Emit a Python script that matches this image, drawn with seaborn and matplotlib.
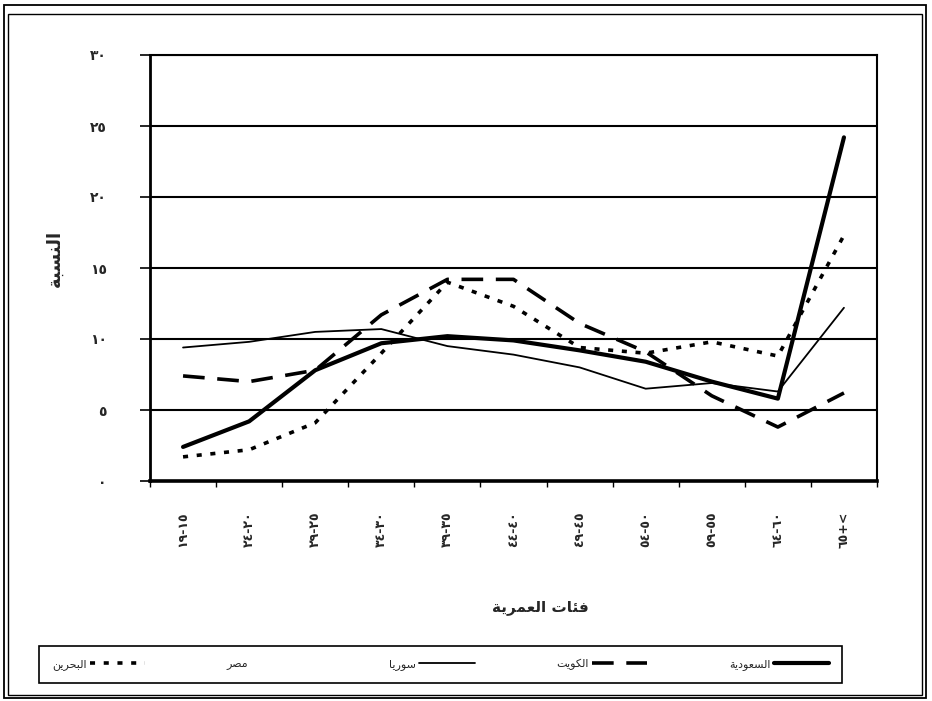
import numpy as np
import pandas as pd
import matplotlib
matplotlib.use("Agg")
import matplotlib.pyplot as plt
from matplotlib.lines import Line2D
from matplotlib.patches import Rectangle
import seaborn as sns

# age groups, as they read on the (rotated) tick labels
age_groups = ['١٩-١٥', '٢٤-٢٠', '٢٩-٢٥', '٣٤-٣٠', '٣٩-٣٥', '٤٤-٤٠',
              '٤٩-٤٥', '٥٤-٥٠', '٥٩-٥٥', '٦٤-٦٠', '٦٥+<']
y_ticks = [0, 5, 10, 15, 20, 25, 30]
y_tick_labels = ['٠', '٥', '١٠', '١٥', '٢٠', '٢٥', '٣٠']

saudi = [2.4, 4.2, 7.8, 9.7, 10.2, 9.9, 9.2, 8.4, 7.0, 5.8, 24.2]
syria = [9.4, 9.8, 10.5, 10.7, 9.5, 8.9, 8.0, 6.5, 6.9, 6.3, 12.2]
kuwait = [7.4, 7.0, 7.8, 11.7, 14.2, 14.2, 11.1, 9.1, 6.0, 3.8, 6.2]
bahrain = [1.7, 2.2, 4.1, 9.0, 14.0, 12.3, 9.4, 9.0, 9.8, 8.8, 17.3]

# Arabic letters -> (isolated, final, initial, medial) presentation forms
FORMS = {
    'ا': ('\uFE8D', '\uFE8E', None, None),
    'ب': ('\uFE8F', '\uFE90', '\uFE91', '\uFE92'),
    'ة': ('\uFE93', '\uFE94', None, None),
    'ت': ('\uFE95', '\uFE96', '\uFE97', '\uFE98'),
    'ح': ('\uFEA1', '\uFEA2', '\uFEA3', '\uFEA4'),
    'د': ('\uFEA9', '\uFEAA', None, None),
    'ر': ('\uFEAD', '\uFEAE', None, None),
    'س': ('\uFEB1', '\uFEB2', '\uFEB3', '\uFEB4'),
    'ص': ('\uFEB9', '\uFEBA', '\uFEBB', '\uFEBC'),
    'ع': ('\uFEC9', '\uFECA', '\uFECB', '\uFECC'),
    'ف': ('\uFED1', '\uFED2', '\uFED3', '\uFED4'),
    'ك': ('\uFED9', '\uFEDA', '\uFEDB', '\uFEDC'),
    'ل': ('\uFEDD', '\uFEDE', '\uFEDF', '\uFEE0'),
    'م': ('\uFEE1', '\uFEE2', '\uFEE3', '\uFEE4'),
    'ن': ('\uFEE5', '\uFEE6', '\uFEE7', '\uFEE8'),
    'و': ('\uFEED', '\uFEEE', None, None),
    'ي': ('\uFEF1', '\uFEF2', '\uFEF3', '\uFEF4'),
    'ئ': ('\uFE89', '\uFE8A', '\uFE8B', '\uFE8C'),
}


def ar(text):
    # join the letters and reverse, since matplotlib draws left to right
    out = []
    for i, ch in enumerate(text):
        if ch not in FORMS:
            out.append(ch)
            continue
        iso, fin, ini, med = FORMS[ch]
        prev = text[i - 1] if i > 0 else ''
        nxt = text[i + 1] if i + 1 < len(text) else ''
        jp = prev in FORMS and FORMS[prev][2] is not None
        jn = ini is not None and nxt in FORMS
        if jp and jn:
            out.append(med)
        elif jp:
            out.append(fin)
        elif jn:
            out.append(ini)
        else:
            out.append(iso)
    return ''.join(reversed(out))


sns.set_style("ticks")
plt.rcParams['font.family'] = ['DejaVu Sans']

fig = plt.figure(figsize=(9.32, 7.01), dpi=100)
ax = fig.add_axes([150 / 932, 1 - 481 / 701, 727 / 932, 426 / 701])

series = [
    (saudi, 'السعودية', dict(lw=3.0)),
    (syria, 'سوريا', dict(lw=1.3)),
    (kuwait, 'الكويت', dict(lw=2.6, dashes=(6, 3.5))),
    (bahrain, 'البحرين', dict(lw=2.6, dashes=(1.4, 2.4))),
]
for vals, name, style in series:
    df = pd.DataFrame({'age': age_groups, 'value': vals})
    sns.lineplot(data=df, x='age', y='value', ax=ax, color='black',
                 sort=False, **style)

ax.set_xlim(-0.5, len(age_groups) - 0.5)
ax.set_ylim(0, 30)
ax.set_yticks(y_ticks)
ax.set_yticklabels(y_tick_labels, fontsize=10, fontweight='bold')
ax.yaxis.grid(True, color='black', lw=1.5)
ax.tick_params(axis='y', length=7, width=1.2, pad=24, color='black')

ax.set_xticks(range(len(age_groups)))
ax.set_xticklabels(age_groups, rotation=90, fontsize=9, fontweight='bold')
ax.set_xticks(np.arange(-0.5, len(age_groups)), minor=True)
ax.tick_params(axis='x', which='major', length=0, pad=22)
ax.tick_params(axis='x', which='minor', length=4, width=1, color='black')

for side, w in [('left', 2.0), ('bottom', 2.6), ('top', 1.5), ('right', 1.5)]:
    ax.spines[side].set_visible(True)
    ax.spines[side].set_linewidth(w)
    ax.spines[side].set_color('black')

ax.set_xlabel(ar('فئات العمرية'), fontsize=11, fontweight='bold')
ax.xaxis.set_label_coords((540 - 150) / 727, -(600 - 481) / 426)
ax.set_ylabel(ar('النسبة'), fontsize=13, fontweight='bold', rotation=90)
ax.yaxis.set_label_coords(-(150 - 64) / 727, (481 - 258) / 426)

# legend, right-to-left: label first, sample after it
handles = [
    Line2D([], [], color='black', lw=2.6, dashes=(1.4, 2.4)),
    Line2D([], [], color='none'),
    Line2D([], [], color='black', lw=1.3),
    Line2D([], [], color='black', lw=2.6, dashes=(6, 3.5)),
    Line2D([], [], color='black', lw=3.0),
]
labels = [ar('البحرين'), ar('مصر'), ar('سوريا'), ar('الكويت'), ar('السعودية')]
leg = fig.legend(handles, labels, ncol=5, markerfirst=False,
                 loc='center', mode='expand', fontsize=8,
                 bbox_to_anchor=(33 / 932, 1 - 692 / 701, 815 / 932, 55 / 701),
                 handlelength=5, handletextpad=0.3, fancybox=False,
                 edgecolor='black', framealpha=1, borderpad=1.2)
leg.get_frame().set_linewidth(1.2)

fig.patches.append(Rectangle((4 / 932, 3 / 701), 922 / 932, 693 / 701,
                             transform=fig.transFigure, fill=False,
                             lw=1.3, ec='black'))
fig.patches.append(Rectangle((8 / 932, 6 / 701), 914 / 932, 681 / 701,
                             transform=fig.transFigure, fill=False,
                             lw=1.0, ec='black'))

fig.savefig('out.png', dpi=100, facecolor='white')
